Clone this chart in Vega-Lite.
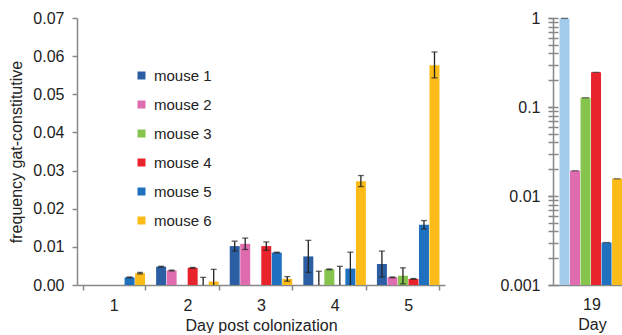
{
  "$schema": "https://vega.github.io/schema/vega-lite/v6.json",
  "padding": {"left": 8, "top": 10, "right": 0, "bottom": 0},
  "spacing": 54,
  "config": {
    "view": {"stroke": null},
    "font": "Liberation Sans",
    "axis": {
      "grid": false,
      "domainColor": "#888888",
      "domainWidth": 1.5,
      "tickColor": "#888888",
      "tickWidth": 1.5,
      "tickSize": 5,
      "labelColor": "#222222",
      "labelFontSize": 16,
      "labelPadding": 7,
      "titleColor": "#222222",
      "titleFontSize": 16,
      "titleFontWeight": "normal"
    },
    "legend": {"labelFontSize": 15, "labelColor": "#222222"}
  },
  "datasets": {
    "early": [
      {"day": "1", "mouse": "mouse 1", "value": 0, "lo": 0, "hi": 0},
      {"day": "1", "mouse": "mouse 2", "value": 0, "lo": 0, "hi": 0},
      {"day": "1", "mouse": "mouse 3", "value": 0, "lo": 0, "hi": 0},
      {"day": "1", "mouse": "mouse 4", "value": 0, "lo": 0, "hi": 0},
      {"day": "1", "mouse": "mouse 5", "value": 0.0020, "lo": 0.0019, "hi": 0.0021},
      {"day": "1", "mouse": "mouse 6", "value": 0.0031, "lo": 0.0029, "hi": 0.0033},
      {"day": "2", "mouse": "mouse 1", "value": 0.0048, "lo": 0.0047, "hi": 0.0049},
      {"day": "2", "mouse": "mouse 2", "value": 0.0038, "lo": 0.0037, "hi": 0.0039},
      {"day": "2", "mouse": "mouse 3", "value": 0, "lo": 0, "hi": 0},
      {"day": "2", "mouse": "mouse 4", "value": 0.0045, "lo": 0.0044, "hi": 0.0046},
      {"day": "2", "mouse": "mouse 5", "value": 0, "lo": 0, "hi": 0.0020},
      {"day": "2", "mouse": "mouse 6", "value": 0.0009, "lo": 0, "hi": 0.0041},
      {"day": "3", "mouse": "mouse 1", "value": 0.0102, "lo": 0.0089, "hi": 0.0115},
      {"day": "3", "mouse": "mouse 2", "value": 0.0108, "lo": 0.0093, "hi": 0.0123},
      {"day": "3", "mouse": "mouse 3", "value": 0, "lo": 0, "hi": 0},
      {"day": "3", "mouse": "mouse 4", "value": 0.0102, "lo": 0.0091, "hi": 0.0113},
      {"day": "3", "mouse": "mouse 5", "value": 0.0085, "lo": 0.0084, "hi": 0.0086},
      {"day": "3", "mouse": "mouse 6", "value": 0.0016, "lo": 0.0010, "hi": 0.0022},
      {"day": "4", "mouse": "mouse 1", "value": 0.0075, "lo": 0.0033, "hi": 0.0117},
      {"day": "4", "mouse": "mouse 2", "value": 0, "lo": 0, "hi": 0.0036},
      {"day": "4", "mouse": "mouse 3", "value": 0.0041, "lo": 0.0040, "hi": 0.0042},
      {"day": "4", "mouse": "mouse 4", "value": 0, "lo": 0, "hi": 0.0049},
      {"day": "4", "mouse": "mouse 5", "value": 0.0043, "lo": 0, "hi": 0.0086},
      {"day": "4", "mouse": "mouse 6", "value": 0.0272, "lo": 0.0258, "hi": 0.0287},
      {"day": "5", "mouse": "mouse 1", "value": 0.0055, "lo": 0.0021, "hi": 0.0089},
      {"day": "5", "mouse": "mouse 2", "value": 0.0020, "lo": 0.0019, "hi": 0.0021},
      {"day": "5", "mouse": "mouse 3", "value": 0.0024, "lo": 0.0003, "hi": 0.0045},
      {"day": "5", "mouse": "mouse 4", "value": 0.0016, "lo": 0.0015, "hi": 0.0017},
      {"day": "5", "mouse": "mouse 5", "value": 0.0158, "lo": 0.0147, "hi": 0.0169},
      {"day": "5", "mouse": "mouse 6", "value": 0.0576, "lo": 0.0543, "hi": 0.0611}
    ],
    "late": [
      {"day": "19", "mouse": "mouse 1", "value": 0.99},
      {"day": "19", "mouse": "mouse 2", "value": 0.0192},
      {"day": "19", "mouse": "mouse 3", "value": 0.127},
      {"day": "19", "mouse": "mouse 4", "value": 0.245},
      {"day": "19", "mouse": "mouse 5", "value": 0.0030},
      {"day": "19", "mouse": "mouse 6", "value": 0.0156}
    ]
  },
  "resolve": {"scale": {"color": "independent"}},
  "hconcat": [
    {
      "width": 368,
      "height": 267,
      "data": {"name": "early"},
      "encoding": {
        "x": {"field": "day", "type": "nominal", "title": "Day post colonization",
              "scale": {"paddingInner": 0.15, "paddingOuter": 0.075},
              "axis": {"labelAngle": 0, "tickBand": "extent"}},
        "xOffset": {"field": "mouse", "type": "nominal", "scale": {"paddingInner": 0.05}}
      },
      "layer": [
        {
          "mark": {"type": "bar"},
          "encoding": {
            "y": {"field": "value", "type": "quantitative", "title": "frequency gat-constitutive",
                  "scale": {"domain": [0, 0.07], "nice": false},
                  "axis": {"values": [0, 0.01, 0.02, 0.03, 0.04, 0.05, 0.06, 0.07], "format": ".2f",
                           "labelPadding": 8, "labelOverlap": false, "titlePadding": 8}},
            "color": {"field": "mouse", "type": "nominal",
                      "scale": {"domain": ["mouse 1", "mouse 2", "mouse 3", "mouse 4", "mouse 5", "mouse 6"],
                                "range": ["#2b5ea3", "#e06cb0", "#86c44e", "#e8232b", "#1f70bf", "#fbbc1a"]},
                      "legend": {"title": null, "orient": "none", "legendX": 57, "legendY": 50,
                                 "symbolType": "square", "symbolSize": 64, "rowPadding": 13, "labelOffset": 5}}
          }
        },
        {
          "transform": [{"filter": "datum.hi > datum.value"}],
          "mark": {"type": "rule", "color": "#222222", "strokeWidth": 1.3},
          "encoding": {
            "y": {"field": "lo", "type": "quantitative", "title": "frequency gat-constitutive",
                  "axis": {"values": [0, 0.01, 0.02, 0.03, 0.04, 0.05, 0.06, 0.07], "format": ".2f",
                           "labelPadding": 8, "labelOverlap": false, "titlePadding": 8}},
            "y2": {"field": "hi"}
          }
        },
        {
          "transform": [{"filter": "datum.hi > datum.value"}],
          "mark": {"type": "tick", "color": "#222222", "thickness": 1.3, "size": 6},
          "encoding": {"y": {"field": "hi", "type": "quantitative", "title": "frequency gat-constitutive",
                  "axis": {"values": [0, 0.01, 0.02, 0.03, 0.04, 0.05, 0.06, 0.07], "format": ".2f",
                           "labelPadding": 8, "labelOverlap": false, "titlePadding": 8}}}
        },
        {
          "transform": [{"filter": "datum.hi > datum.value && datum.lo > 0"}],
          "mark": {"type": "tick", "color": "#222222", "thickness": 1.3, "size": 6},
          "encoding": {"y": {"field": "lo", "type": "quantitative", "title": "frequency gat-constitutive",
                  "axis": {"values": [0, 0.01, 0.02, 0.03, 0.04, 0.05, 0.06, 0.07], "format": ".2f",
                           "labelPadding": 8, "labelOverlap": false, "titlePadding": 8}}}
        }
      ]
    },
    {
      "width": 78,
      "height": 267,
      "data": {"name": "late"},
      "encoding": {
        "x": {"field": "day", "type": "nominal", "title": "Day",
              "scale": {"paddingInner": 0, "paddingOuter": 0.1},
              "axis": {"labelAngle": 0, "ticks": false, "labelPadding": 11}},
        "xOffset": {"field": "mouse", "type": "nominal", "scale": {"paddingInner": 0.03}}
      },
      "resolve": {"axis": {"y": "independent"}},
      "layer": [
        {
          "mark": {"type": "bar"},
          "encoding": {
            "y": {"field": "value", "type": "quantitative", "title": null,
                  "scale": {"type": "log", "domain": [0.001, 1], "nice": false},
                  "axis": {"orient": "left", "values": [0.001, 0.01, 0.1, 1],
                           "format": "~g", "labelOverlap": false, "labelPadding": 8, "ticks": true, "tickSize": 5}},
            "y2": {"datum": 0.001},
            "color": {"field": "mouse", "type": "nominal",
                      "scale": {"domain": ["mouse 1", "mouse 2", "mouse 3", "mouse 4", "mouse 5", "mouse 6"],
                                "range": ["#a3cbec", "#e06cb0", "#86c44e", "#e8232b", "#1f70bf", "#fbbc1a"]},
                      "legend": null}
          }
        },
        {
          "mark": {"type": "tick", "color": "#333333", "thickness": 1.3, "size": 7},
          "encoding": {"y": {"field": "value", "type": "quantitative", "title": null,
                             "scale": {"type": "log", "domain": [0.001, 1], "nice": false},
                             "axis": {"orient": "left", "domain": false, "labels": false, "tickSize": 10, "offset": -5,
                                      "values": [0.001, 0.002, 0.003, 0.004, 0.005, 0.006, 0.007, 0.008, 0.009, 0.01, 0.02, 0.03, 0.04, 0.05, 0.06, 0.07, 0.08, 0.09, 0.1, 0.2, 0.3, 0.4, 0.5, 0.6, 0.7, 0.8, 0.9, 1]}}}
        }
      ]
    }
  ]
}
